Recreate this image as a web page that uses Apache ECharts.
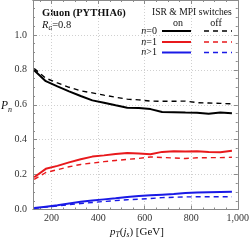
<!DOCTYPE html>
<html><head><meta charset="utf-8">
<script src="https://cdn.jsdelivr.net/npm/echarts@6/dist/echarts.min.js"></script>
<style>html,body{margin:0;padding:0;background:#fff}#c{width:252px;height:241px}</style>
</head><body><div id="c"></div>
<script>
var pT = [125,175,225,275,325,375,425,475,525,575,625,675,725,775,825,875,925,975];
var n0On  = [0.798,0.735,0.705,0.677,0.650,0.625,0.612,0.597,0.583,0.582,0.575,0.558,0.557,0.555,0.554,0.548,0.556,0.552];
var n0Off = [0.808,0.752,0.725,0.700,0.680,0.668,0.655,0.643,0.632,0.628,0.621,0.620,0.620,0.621,0.612,0.610,0.608,0.605];
var n1On  = [0.185,0.233,0.250,0.270,0.288,0.303,0.310,0.318,0.324,0.321,0.317,0.330,0.333,0.332,0.333,0.330,0.328,0.336];
var n1Off = [0.172,0.212,0.228,0.245,0.258,0.266,0.274,0.281,0.287,0.293,0.301,0.298,0.295,0.292,0.296,0.297,0.297,0.299];
var n2On  = [0.008,0.016,0.024,0.035,0.044,0.052,0.058,0.064,0.071,0.077,0.081,0.085,0.089,0.094,0.097,0.099,0.100,0.101];
var n2Off = [0.006,0.014,0.020,0.028,0.034,0.040,0.046,0.051,0.056,0.059,0.063,0.068,0.070,0.072,0.073,0.073,0.073,0.073];
var xMajor = [200,400,600,800,1000];
var xMinor = [150,250,300,350,450,500,550,650,700,750,850,900,950];

var FONT = 'Liberation Serif';
var FRAME = '#8a8a8a';
var BLACK = '#000', RED = '#e8191c', BLUE = '#1a1ae6';

function pairs(ys){ return pT.map(function(x,i){ return [x, ys[i]]; }); }
function ser(name, ys, color, dashed){
  return { name:name, type:'line', data:pairs(ys), showSymbol:false, silent:true,
    lineStyle:{ color:color, width: dashed?1.4:2, type: dashed?[5,4]:'solid' }, xAxisIndex:0, yAxisIndex:0 };
}
function xAx(pos, ticks, len, labels, split){
  return { type:'value', position:pos, min:120, max:1000,
    axisLine:{ show:true, lineStyle:{ color:FRAME, width:1 } },
    axisTick:{ show:true, inside:true, length:len, customValues:ticks, lineStyle:{ color:FRAME } },
    axisLabel:{ show:labels, customValues:xMajor, margin:4, fontFamily:FONT, fontSize:10, color:'#333' },
    splitLine:{ show:split, lineStyle:{ color:'#d0d0d0', type:[1,2], width:1 } } };
}
function yAx(pos, labels){
  return { type:'value', position:pos, min:0, max:1.2, interval:0.2,
    axisLine:{ show:true, lineStyle:{ color:FRAME, width:1 } },
    axisTick:{ show:true, inside:true, length:4, lineStyle:{ color:FRAME } },
    minorTick:{ show:true, splitNumber:4, length:2, lineStyle:{ color:FRAME } },
    axisLabel:{ show:labels, margin:6, fontFamily:FONT, fontSize:10, color:'#333',
      formatter:function(v){ return v>1.1 ? '' : v.toFixed(1); } },
    splitLine:{ show:labels, lineStyle:{ color:'#d0d0d0', type:[1,2], width:1 } } };
}
function txt(x, y, text, rich, align, size){
  return { type:'text', x:x, y:y, silent:true,
    style:{ text:text, rich:rich, fontFamily:FONT, fontSize:size||10, fill:'#111', align:align||'left', verticalAlign:'middle' } };
}
function lineG(x1, x2, y, color, dashed){
  return { type:'line', silent:true, shape:{ x1:x1, y1:y, x2:x2, y2:y },
    style:{ stroke:color, lineWidth: dashed?1.4:2, lineDash: dashed?[5,4]:null } };
}
var richN = { i:{ fontFamily:FONT, fontStyle:'italic', fontSize:10, fill:'#111' }, r:{ fontFamily:FONT, fontSize:10, fill:'#111' } };

var chart = echarts.init(document.getElementById('c'), null, { renderer:'canvas' });
chart.setOption({
  animation:false,
  backgroundColor:'#fff',
  grid:{ left:33, right:10, top:0, bottom:31.5 },
  xAxis:[ xAx('bottom', xMajor, 4, true, true), xAx('bottom', xMinor, 2, false, false),
          xAx('top', xMajor, 4, false, false), xAx('top', xMinor, 2, false, false) ],
  yAxis:[ yAx('left', true), yAx('right', false) ],
  series:[ ser('n=0 on', n0On, BLACK, false), ser('n=0 off', n0Off, BLACK, true),
           ser('n=1 on', n1On, RED, false), ser('n=1 off', n1Off, RED, true),
           ser('n>1 on', n2On, BLUE, false), ser('n>1 off', n2Off, BLUE, true) ],
  graphic:[
    { type:'text', x:42, y:13, silent:true, style:{ text:'Gluon (PYTHIA6)', fontFamily:FONT, fontWeight:'bold', fontSize:10.5, fill:'#111', verticalAlign:'middle' } },
    txt(42, 25, '{i|R}{s|a}{r|=0.8}', { i:{ fontFamily:FONT, fontStyle:'italic', fontSize:10.5, fill:'#111', lineHeight:14 }, s:{ fontFamily:FONT, fontStyle:'italic', fontSize:7.5, fill:'#111', verticalAlign:'bottom' }, r:{ fontFamily:FONT, fontSize:10.5, fill:'#111' } }),
    txt(152, 12, 'ISR & MPI switches', null, 'left', 9.6),
    txt(178, 23, 'on', null, 'center'),
    txt(216, 23, 'off', null, 'center'),
    txt(157, 31, '{i|n}{r|=0}', richN, 'right'),
    txt(157, 42, '{i|n}{r|=1}', richN, 'right'),
    txt(157, 52, '{i|n}{r|>1}', richN, 'right'),
    lineG(162, 191, 31, BLACK, false), lineG(204, 232, 31, BLACK, true),
    lineG(162, 191, 42, RED, false), lineG(204, 232, 42, RED, true),
    lineG(162, 191, 52.5, BLUE, false), lineG(204, 232, 52.5, BLUE, true),
    txt(1, 106, '{i|P}{s|n}', { i:{ fontFamily:FONT, fontStyle:'italic', fontSize:11.5, fill:'#111', lineHeight:15 }, s:{ fontFamily:FONT, fontStyle:'italic', fontSize:8, fill:'#111', verticalAlign:'bottom' } }),
    txt(137, 232, '{i|p}{s|T}{r|(}{i|j}{s|s}{r|) [GeV]}', { i:{ fontFamily:FONT, fontStyle:'italic', fontSize:11, fill:'#111', lineHeight:15 }, s:{ fontFamily:FONT, fontStyle:'italic', fontSize:7.5, fill:'#111', verticalAlign:'bottom' }, r:{ fontFamily:FONT, fontSize:11, fill:'#111' } }, 'center')
  ]
});
</script></body></html>
